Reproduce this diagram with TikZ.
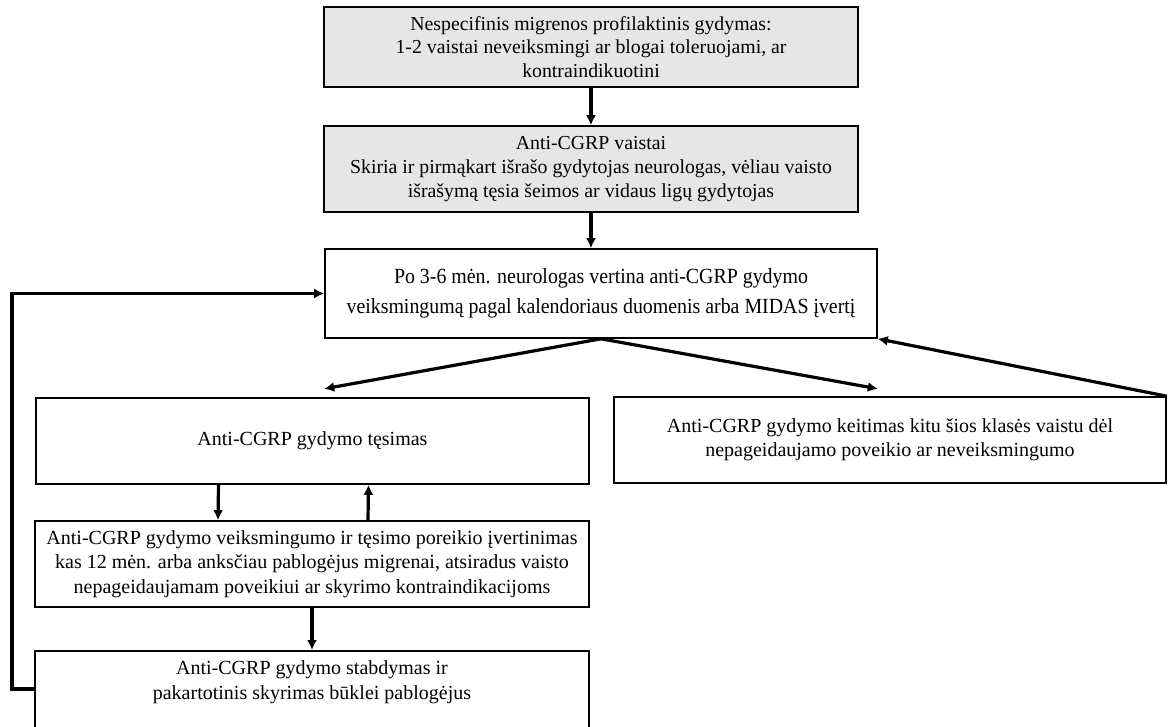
\documentclass[tikz,border=0pt]{standalone}
\usepackage{fontspec}
\setmainfont{Liberation Serif}
\newfontfamily\narrowserif[FakeStretch=0.92]{Liberation Serif}
\usetikzlibrary{arrows.meta,positioning}
\definecolor{ink}{HTML}{000000}
\definecolor{boxgray}{HTML}{E6E6E6}
\tikzset{
  graybox/.style={draw=ink,fill=boxgray,line width=0.8pt,
                  inner sep=0pt,align=center,
                  font=\fontsize{9.9}{11.6}\selectfont},
  plainbox/.style={draw=ink,fill=white,line width=0.8pt,
                   inner sep=0pt,align=center,
                   font=\fontsize{10}{12.2}\selectfont},
  flowarr/.style={-{Latex[length=5pt,width=5pt]},line width=1.6pt}
}

\begin{document}
\begin{tikzpicture}[x=0.5pt,y=-0.5pt]
  \useasboundingbox (0,0) rectangle (1168,727);
  % top chain
  \node[graybox,minimum width=267pt,minimum height=40pt] (nonspec) at (591,47)
    {Nespecifinis migrenos profilaktinis gydymas:\\
     1-2 vaistai neveiksmingi ar blogai toleruojami, ar\\
     kontraindikuotini};
  \node[graybox,minimum width=267pt,minimum height=43pt,
        font=\fontsize{9.9}{12.2}\selectfont] (anticgrp) at (591,169)
    {Anti-CGRP vaistai\\
     Skiria ir pirmąkart išrašo gydytojas neurologas, vėliau vaisto\\
     išrašymą tęsia šeimos ar vidaus ligų gydytojas};
  \node[plainbox,minimum width=276pt,minimum height=44.5pt,
        font=\narrowserif\fontsize{10.8}{15}\selectfont] (review) at (601,293.5)
    {Po 3-6 mėn. neurologas vertina anti-CGRP gydymo\\
     veiksmingumą pagal kalendoriaus duomenis arba MIDAS įvertį};
  % outcomes
  \node[plainbox,minimum width=276.5pt,minimum height=43pt] (continue) at (312.5,441)
    {Anti-CGRP gydymo tęsimas};
  \node[plainbox,minimum width=276pt,minimum height=43pt] (switch) at (890,440)
    {Anti-CGRP gydymo keitimas kitu šios klasės vaistu dėl\\
     nepageidaujamo poveikio ar neveiksmingumo};
  \node[plainbox,minimum width=277pt,minimum height=43pt] (yearly) at (312,564)
    {Anti-CGRP gydymo veiksmingumo ir tęsimo poreikio įvertinimas\\
     kas 12 mėn. arba anksčiau pablogėjus migrenai, atsiradus vaisto\\
     nepageidaujamam poveikiui ar skyrimo kontraindikacijoms};
  \node[plainbox,minimum width=277pt,anchor=north,inner ysep=5pt,
        text depth=30pt] (stop) at (312,650)
    {Anti-CGRP gydymo stabdymas ir\\
     pakartotinis skyrimas būklei pablogėjus};
  \coordinate (loopcorner) at (12,689);

  \draw[flowarr] (nonspec.south) -- (anticgrp.north);
  \draw[flowarr] (anticgrp.south) -- (anticgrp.south |- review.north);
  \draw[flowarr] (review.south) -- ([yshift=-25pt]review.south west);
  \draw[flowarr] (review.south) -- ([yshift=-25pt]review.south east);
  \draw[flowarr] (switch.north east) -- (review.south east);
  \draw[flowarr] ([xshift=-47pt]continue.south) -- ([xshift=-47pt]yearly.north);
  \draw[flowarr] ([xshift=28pt]yearly.north) -- ([xshift=28pt]continue.south);
  \draw[flowarr] (yearly.south) -- (stop.north);
  \draw[flowarr] ([yshift=-19.5pt]stop.north west) -- (loopcorner) |- (review.west);
\end{tikzpicture}
\end{document}
